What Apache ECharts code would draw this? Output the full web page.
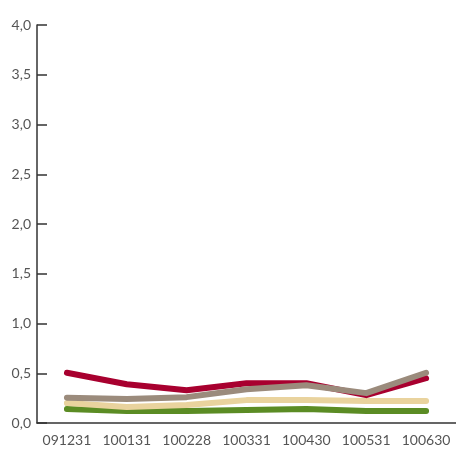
<!DOCTYPE html>
<html>
<head>
<meta charset="utf-8">
<script src="https://cdn.jsdelivr.net/npm/echarts@6/dist/echarts.min.js"></script>
<style>
  html, body { margin: 0; padding: 0; background: #fff; }
  #chart { width: 456px; height: 450px; }
</style>
</head>
<body>
<div id="chart"></div>
<script>
// dates (yymmdd) and the four series
const categories = ["091231", "100131", "100228", "100331", "100430", "100531", "100630"];
const greenValues = [0.14, 0.12, 0.12, 0.13, 0.14, 0.12, 0.12];
const tanValues = [0.20, 0.16, 0.18, 0.23, 0.23, 0.22, 0.22];
const redValues = [0.505, 0.39, 0.33, 0.40, 0.40, 0.28, 0.45];
const grayValues = [0.255, 0.24, 0.26, 0.34, 0.38, 0.30, 0.505];

const FONT = "Lato";
const LABEL_COLOR = "#555";
const AXIS_COLOR = "#333";

function lineSeries(name, data, color) {
  return {
    name,
    type: "line",
    data,
    symbol: "none",
    lineStyle: { color, width: 6, cap: "round", join: "round" },
    emphasis: { disabled: true }
  };
}

const chart = echarts.init(document.getElementById("chart"));
chart.setOption({
  animation: false,
  grid: { left: 37, top: 25, width: 420, bottom: 27 },
  xAxis: {
    type: "category",
    data: categories,
    boundaryGap: true,
    axisLine: { lineStyle: { color: AXIS_COLOR, width: 1.5 } },
    axisTick: { inside: true, length: 10, alignWithLabel: true, interval: 0, lineStyle: { color: AXIS_COLOR, width: 1.5 } },
    axisLabel: { color: LABEL_COLOR, fontFamily: FONT, fontSize: 14, margin: 10, interval: 0, hideOverlap: false },
    splitLine: { show: false }
  },
  yAxis: {
    type: "value",
    min: 0,
    max: 4,
    interval: 0.5,
    axisLine: { show: true, lineStyle: { color: AXIS_COLOR, width: 1.5 } },
    axisTick: { show: true, inside: true, length: 10, lineStyle: { color: AXIS_COLOR, width: 1.5 } },
    axisLabel: {
      color: LABEL_COLOR, fontFamily: FONT, fontSize: 14, margin: 6,
      formatter: (v) => v.toFixed(1).replace(".", ",")
    },
    splitLine: { show: false }
  },
  series: [
    lineSeries("green", greenValues, "#5b8c24"),
    lineSeries("tan", tanValues, "#e9d39e"),
    lineSeries("red", redValues, "#a8002f"),
    lineSeries("gray", grayValues, "#9b8b7c")
  ]
});
</script>
</body>
</html>
